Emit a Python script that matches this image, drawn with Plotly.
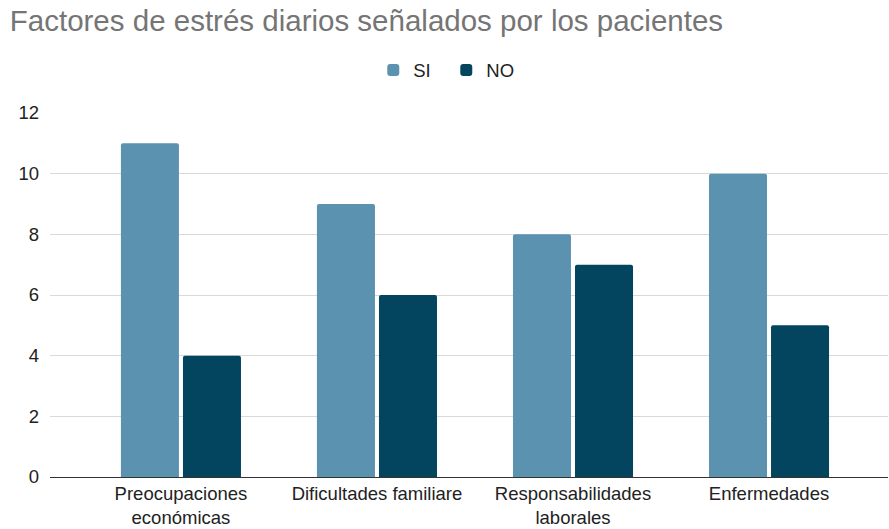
import plotly.graph_objects as go

categories = ["Preocupaciones<br>económicas", "Dificultades familiare",
              "Responsabilidades<br>laborales", "Enfermedades"]
si_values = [11, 9, 8, 10]
no_values = [4, 6, 7, 5]
y_ticks = [0, 2, 4, 6, 8, 10, 12]

FONT = "Liberation Sans"

fig = go.Figure()
fig.add_trace(go.Bar(name="SI", x=categories, y=si_values,
                     marker=dict(color="#5a92b0", line=dict(width=0))))
fig.add_trace(go.Bar(name="NO", x=categories, y=no_values,
                     marker=dict(color="#03445f", line=dict(width=0))))

fig.update_layout(
    width=889, height=529,
    paper_bgcolor="white", plot_bgcolor="white",
    font=dict(family=FONT, size=18.5, color="#222222"),
    title=dict(text="Factores de estrés diarios señalados por los pacientes",
               x=0.011, xanchor="left", y=0.96, yanchor="middle",
               font=dict(family=FONT, size=29.5, color="#757575")),
    barmode="group", bargap=0.367, bargroupgap=0.065, barcornerradius=2,
    margin=dict(l=50, r=1, t=113, b=52),
    legend=dict(orientation="h", xref="container", x=0.502, xanchor="center",
                yref="container", y=0.867, yanchor="middle",
                font=dict(family=FONT, size=18.5, color="#222222"), itemwidth=30,
                entrywidth=28, entrywidthmode="pixels",
                traceorder="normal"),
    xaxis=dict(range=[-0.668, 3.607], showgrid=False, showline=True,
               linecolor="#333333", linewidth=1, ticks="",
               tickfont=dict(family=FONT, size=18.5, color="#222222")),
    yaxis=dict(range=[0, 12], tickvals=y_ticks, showgrid=True,
               gridcolor="#d9d9d9", gridwidth=1, zeroline=False,
               ticks="", ticklabelstandoff=10,
               tickfont=dict(family=FONT, size=18.5, color="#222222")),
)

fig.write_html("out.html")
